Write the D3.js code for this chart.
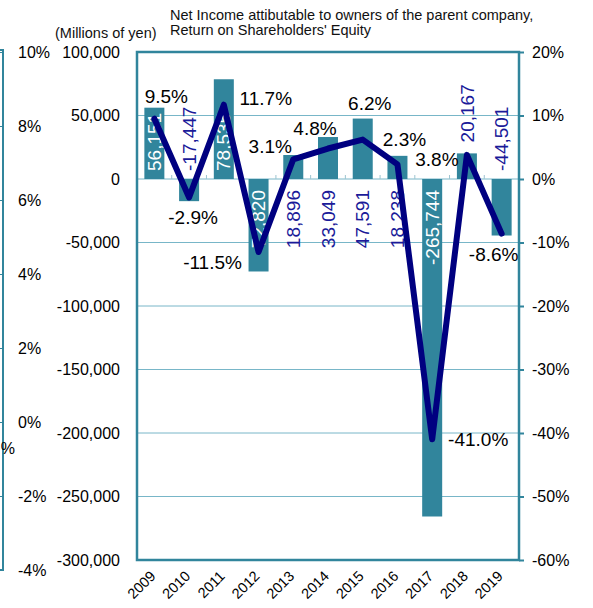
<!DOCTYPE html>
<html>
<head>
<meta charset="utf-8">
<script src="https://cdn.jsdelivr.net/npm/d3@7"></script>
<style>
  html, body { margin: 0; padding: 0; background: #fff; }
  svg { display: block; font-family: "Liberation Sans", Arial, sans-serif; }
</style>
</head>
<body>
<svg id="chart" width="593" height="608"></svg>
<script>
// ---------------- DATA ----------------
const years = ["2009","2010","2011","2012","2013","2014","2015","2016","2017","2018","2019"];
const netIncome = [56151, -17447, 78535, -72820, 18896, 33049, 47591, 18238, -265744, 20167, -44501];
const roe = [9.5, -2.9, 11.7, -11.5, 3.1, 4.8, 6.2, 2.3, -41.0, 3.8, -8.6];
const incomeTicks = [100000, 50000, 0, -50000, -100000, -150000, -200000, -250000, -300000];
const roeTicks = [20, 10, 0, -10, -20, -30, -40, -50, -60];
const partialTicks = [10, 8, 6, 4, 2, 0, -2, -4];
const titleLines = ["Net Income attibutable to owners of the parent company,", "Return on Shareholders' Equity"];
const unitLabel = "(Millions of yen)";

// ---------------- LAYOUT ----------------
const plot = { left: 137, right: 519, top: 52, bottom: 560 };
const teal = "#31859c";
const gridColor = "#78b6c8";
const navy = "#000080";
const labelNavy = "#1a1a99";

// bar-label placement mode per year
const barLabelMode = ["baseUp","baseUp","baseUp","baseDown","baseDown","baseDown","baseDown","baseDown","baseDown","topUp","baseUp"];
// ROE label offsets from the point (label centre)
const roeLabelOffset = [[12,-22],[4,20],[42,-6],[-46,10],[-23,-13],[-13,-20],[7,-36],[7,-25],[46,0],[-30,4],[-8,21]];

const fmt = d => d3.format(",")(d).replace("\u2212", "-");

const svg = d3.select("#chart");

const x = d3.scaleBand().domain(years).range([plot.left, plot.right]).paddingInner(0.424).paddingOuter(0.212);
const yL = d3.scaleLinear().domain([-300000, 100000]).range([plot.bottom, plot.top]);
const yR = d3.scaleLinear().domain([-60, 20]).range([plot.bottom, plot.top]);
const yP = d3.scaleLinear().domain([-4, 10]).range([570, 52]);

// ---- partial neighbouring chart at far left ----
svg.append("rect").attr("x", -50).attr("y", 50).attr("width", 53).attr("height", 520)
  .attr("fill", "none").attr("stroke", teal).attr("stroke-width", 2);
const pAxis = svg.append("g").attr("transform", "translate(3,0)")
  .call(d3.axisLeft(yP).tickValues(partialTicks).tickSize(4).tickFormat(""));
pAxis.select(".domain").remove();
pAxis.selectAll("line").attr("stroke", teal);
svg.append("g").selectAll("text").data(partialTicks).join("text")
  .attr("x", 18).attr("y", d => yP(d)).attr("dy", "0.35em")
  .attr("font-size", 16).attr("fill", "#000")
  .text(d => d + "%");
svg.append("text").attr("x", 15).attr("y", 448).attr("dy", "0.35em")
  .attr("text-anchor", "end").attr("font-size", 16).text("%");

// ---- titles ----
svg.append("g").selectAll("text").data(titleLines).join("text")
  .attr("x", 170).attr("y", (d, i) => 20 + i * 15)
  .attr("font-size", 14.5).attr("fill", "#111").text(d => d);
svg.append("text").attr("x", 55).attr("y", 38).attr("font-size", 14.5).attr("fill", "#111").text(unitLabel);

// ---- gridlines ----
svg.append("g").selectAll("line").data(incomeTicks.filter(d => d < 100000 && d > -300000)).join("line")
  .attr("x1", plot.left).attr("x2", plot.right)
  .attr("y1", d => yL(d)).attr("y2", d => yL(d))
  .attr("stroke", gridColor).attr("stroke-width", 1);

// category ticks on zero line
svg.append("g").selectAll("line").data(years.slice(1)).join("line")
  .attr("x1", d => x(d) - x.step() * x.paddingInner() / 2)
  .attr("x2", d => x(d) - x.step() * x.paddingInner() / 2)
  .attr("y1", yL(0) - 4).attr("y2", yL(0))
  .attr("stroke", "#9cc4d0").attr("stroke-width", 1);

// ---- bars ----
svg.append("g").selectAll("rect").data(netIncome).join("rect")
  .attr("x", (d, i) => x(years[i]))
  .attr("width", x.bandwidth())
  .attr("y", d => yL(Math.max(0, d)))
  .attr("height", d => Math.abs(yL(d) - yL(0)))
  .attr("fill", teal);

// ---- frame ----
svg.append("rect").attr("x", plot.left).attr("y", plot.top)
  .attr("width", plot.right - plot.left).attr("height", plot.bottom - plot.top)
  .attr("fill", "none").attr("stroke", teal).attr("stroke-width", 2.5);

// ---- left axis labels ----
svg.append("g").selectAll("text").data(incomeTicks).join("text")
  .attr("x", 120).attr("y", d => yL(d)).attr("dy", "0.35em")
  .attr("text-anchor", "end").attr("font-size", 16).attr("fill", "#000")
  .text(d => fmt(d));

// ---- right axis ----
const rAxis = svg.append("g").attr("transform", `translate(${plot.right},0)`)
  .call(d3.axisRight(yR).tickValues(roeTicks).tickSize(5).tickFormat(""));
rAxis.select(".domain").remove();
rAxis.selectAll("line").attr("stroke", teal).attr("stroke-width", 2);
svg.append("g").selectAll("text").data(roeTicks).join("text")
  .attr("x", 532).attr("y", d => yR(d)).attr("dy", "0.35em")
  .attr("font-size", 16).attr("fill", "#000")
  .text(d => d + "%");

// ---- x labels ----
svg.append("g").selectAll("text").data(years).join("text")
  .attr("transform", d => `translate(${x(d) + x.bandwidth() / 2 + 2},577) rotate(-45)`)
  .attr("text-anchor", "end").attr("font-size", 14.5).attr("fill", "#000")
  .text(d => d);

// ---- bar value labels ----
svg.append("g").selectAll("text").data(netIncome).join("text")
  .each(function(d, i) {
    const mode = barLabelMode[i];
    const cx = x(years[i]) + x.bandwidth() / 2;
    let y, anchor, inside;
    if (mode === "baseUp") { y = yL(0) - 8; anchor = "start"; inside = d > 0; }
    else if (mode === "baseDown") { y = yL(0) + 11; anchor = "end"; inside = d < 0; }
    else { y = yL(d) - 11; anchor = "start"; inside = false; }
    d3.select(this)
      .attr("transform", `translate(${cx},${y}) rotate(-90)`)
      .attr("text-anchor", anchor).attr("dy", "0.35em")
      .attr("font-size", 19).attr("fill", inside ? "#fff" : labelNavy)
      .text(fmt(d));
  });

// ---- ROE line ----
const line = d3.line().x((d, i) => x(years[i]) + x.bandwidth() / 2).y(d => yR(d));
svg.append("path").datum(roe).attr("d", line)
  .attr("fill", "none").attr("stroke", navy).attr("stroke-width", 6)
  .attr("stroke-linejoin", "round").attr("stroke-linecap", "round");

// ---- ROE labels ----
svg.append("g").selectAll("text").data(roe).join("text")
  .attr("x", (d, i) => x(years[i]) + x.bandwidth() / 2 + roeLabelOffset[i][0])
  .attr("y", (d, i) => yR(d) + roeLabelOffset[i][1])
  .attr("dy", "0.35em").attr("text-anchor", "middle")
  .attr("font-size", 19).attr("fill", "#000")
  .text(d => d.toFixed(1) + "%");
</script>
</body>
</html>
